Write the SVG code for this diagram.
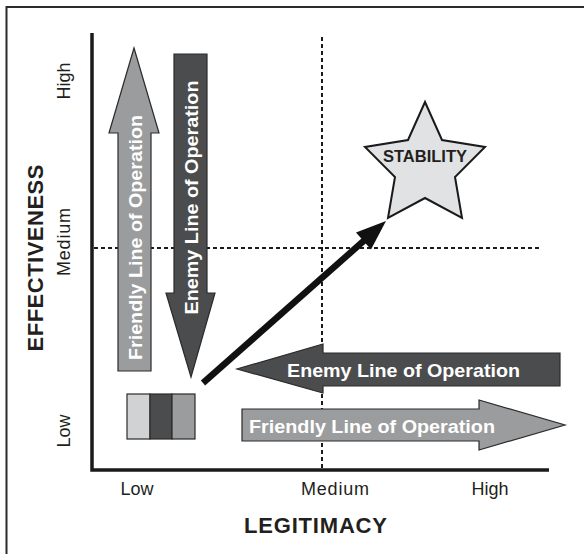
<svg xmlns="http://www.w3.org/2000/svg" width="584" height="554" viewBox="0 0 584 554">
<style>
.frame{fill:none;stroke:#2b2b2b;stroke-width:2}
.axis{stroke:#1a1a1a;stroke-width:3.5;fill:none}
.dash{stroke:#1a1a1a;stroke-width:2;stroke-dasharray:4 3;fill:none}
.mid{fill:#9b9c9e;stroke:#2b2b2b;stroke-width:1.2}
.dark{fill:#4b4c4e;stroke:#2b2b2b;stroke-width:1.2}
.light{fill:#d1d2d4;stroke:#2b2b2b;stroke-width:1.2}
.star{fill:#e1e2e4;stroke:#1a1a1a;stroke-width:2}
.lbl{font-family:"Liberation Sans",Arial,sans-serif;font-weight:bold;fill:#ffffff;font-size:19px}
.tick{font-family:"Liberation Sans",Arial,sans-serif;font-size:18px;fill:#231f20}
.title{font-family:"Liberation Sans",Arial,sans-serif;font-weight:bold;font-size:22px;fill:#231f20}
</style>
<rect x="0" y="0" width="584" height="554" fill="#ffffff"/>
<path class="frame" d="M6.5 555 V7 H585"/>

<g id="axes">
<path class="axis" d="M92 33 V470 H549"/>
<line class="dash" x1="322" y1="37" x2="322" y2="470"/>
<line class="dash" x1="94" y1="248" x2="542" y2="248"/>
</g>

<g id="labels">
<text class="tick" transform="translate(70,81) rotate(-90)" text-anchor="middle">High</text>
<text class="tick" transform="translate(70,242) rotate(-90)" text-anchor="middle" textLength="68">Medium</text>
<text class="tick" transform="translate(70,431) rotate(-90)" text-anchor="middle">Low</text>
<text class="tick" x="137" y="495" text-anchor="middle">Low</text>
<text class="tick" x="335" y="495" text-anchor="middle" textLength="68">Medium</text>
<text class="tick" x="490" y="495" text-anchor="middle">High</text>
<text class="title" transform="translate(43,258) rotate(-90)" text-anchor="middle" textLength="187">EFFECTIVENESS</text>
<text class="title" x="315.5" y="533" text-anchor="middle" textLength="143">LEGITIMACY</text>
</g>

<g id="friendly-up">
<polygon class="mid" points="118,371 118,133 109,133 134,48 159,133 151,133 151,371"/>
<text class="lbl" transform="translate(141.5,237.5) rotate(-90)" text-anchor="middle" textLength="245" lengthAdjust="spacingAndGlyphs">Friendly Line of Operation</text>
</g>

<g id="enemy-down">
<polygon class="dark" points="174,54 207,54 207,293 215,293 191,377 166,293 174,293"/>
<text class="lbl" transform="translate(197.5,197.5) rotate(-90)" text-anchor="middle" textLength="234" lengthAdjust="spacingAndGlyphs">Enemy Line of Operation</text>
</g>

<g id="enemy-left">
<polygon class="dark" points="560,353 560,386 323,386 323,393 237,369 323,344 323,353"/>
<text class="lbl" x="403.5" y="376.5" text-anchor="middle" textLength="233" lengthAdjust="spacingAndGlyphs">Enemy Line of Operation</text>
</g>

<g id="friendly-right">
<polygon class="mid" points="242,409 479,409 479,400 565,425 479,450 479,441 242,441"/>
<text class="lbl" x="372" y="432.5" text-anchor="middle" textLength="246" lengthAdjust="spacingAndGlyphs">Friendly Line of Operation</text>
</g>

<g id="legend">
<rect class="light" x="127" y="394" width="23" height="45"/>
<rect class="dark" x="150" y="394" width="22" height="45"/>
<rect class="mid" x="172" y="394" width="23" height="45"/>
</g>

<g id="stability">
<polygon class="star" points="425,102 442,140 485,147 455,177 462,218 425,198 388,218 395,177 365,147 408,140"/>
<text x="425" y="162" text-anchor="middle" font-family="Liberation Sans, Arial, sans-serif" font-weight="bold" font-size="17" fill="#231f20" textLength="84" lengthAdjust="spacingAndGlyphs">STABILITY</text>
</g>

<g id="connectors">
<line x1="203" y1="383" x2="367" y2="238" stroke="#111111" stroke-width="6.5"/>
<polygon points="386,221 371,249.5 356,232.5" fill="#111111"/>
</g>
</svg>
